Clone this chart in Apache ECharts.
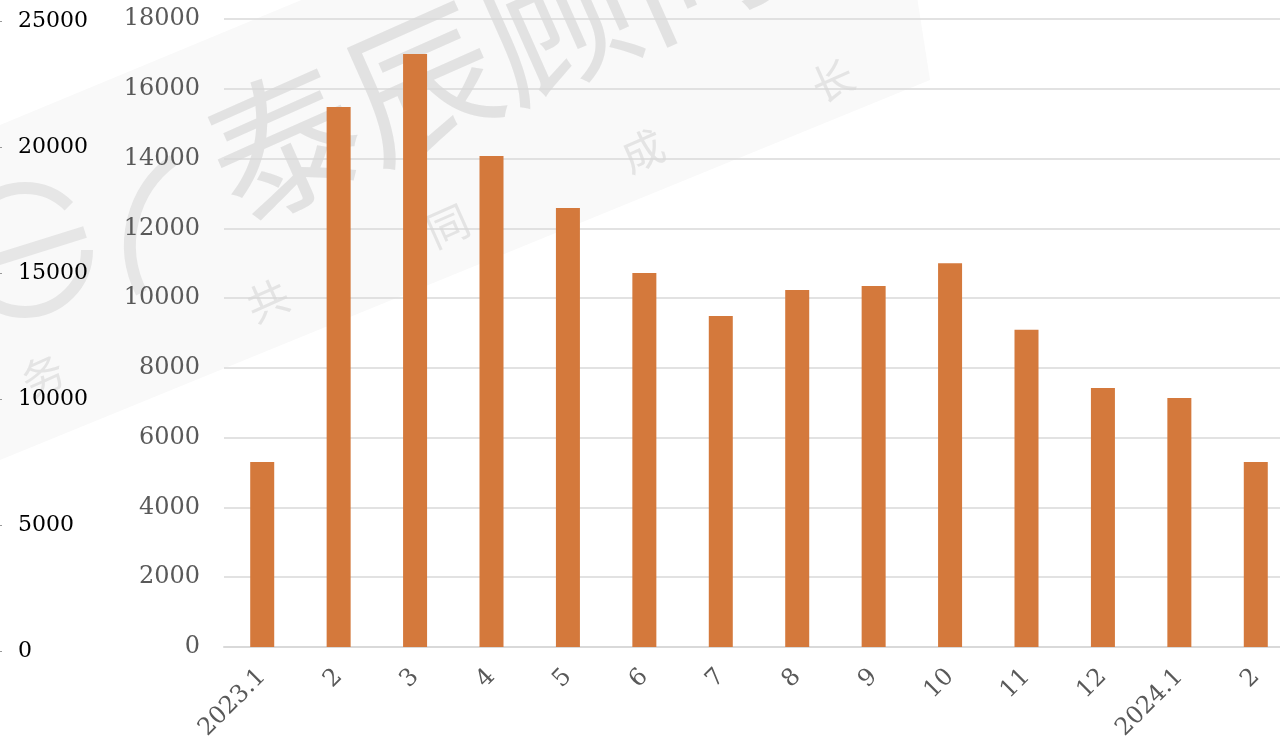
<!DOCTYPE html>
<html>
<head>
<meta charset="utf-8">
<script src="https://cdn.jsdelivr.net/npm/echarts@6/dist/echarts.min.js"></script>
<style>
  html, body { margin: 0; padding: 0; background: #fff; }
  #chart { width: 1280px; height: 744px; }
</style>
</head>
<body>
<div id="chart"></div>
<script>
const categories = ["2023.1", "2", "3", "4", "5", "6", "7", "8", "9", "10", "11", "12", "2024.1", "2"];
const values = [5300, 15480, 17000, 14070, 12580, 10720, 9490, 10230, 10350, 11000, 9090, 7420, 7140, 5300];
const outerTicks = [0, 5000, 10000, 15000, 20000, 25000];

const serif = "DejaVu Serif";
const chart = echarts.init(document.getElementById("chart"));

const rot = Math.PI * 24 / 180;
const wmSmall = (ch, x, y) => ({
  type: "text", x: x, y: y, rotation: rot, z: -5, silent: true,
  style: { text: ch, font: "42px 'Noto Sans CJK SC'", fill: "#e4e4e4" }
});

chart.setOption({
  animation: false,
  backgroundColor: "#fff",
  graphic: [
    // faint watermark band
    {
      type: "polygon", z: -10, silent: true,
      shape: { points: [[0, 125], [880, -240], [930, 80], [0, 460]] },
      style: { fill: "#f9f9f9" }
    },
    {
      type: "text", x: 185, y: 105, rotation: rot, z: -5, silent: true,
      style: { text: "泰辰顾问", font: "150px 'Noto Sans CJK SC'", fill: "#e2e2e2" }
    },
    wmSmall("共", 240, 290),
    wmSmall("同", 420, 215),
    wmSmall("成", 615, 140),
    wmSmall("长", 805, 70),
    wmSmall("务", 15, 365),
    { type: "arc", z: -5, silent: true,
      shape: { cx: 25, cy: 250, r: 62, startAngle: 0, endAngle: Math.PI * 1.75 },
      style: { stroke: "#e6e6e6", lineWidth: 12, fill: null } },
    { type: "line", z: -5, silent: true,
      shape: { x1: -30, y1: 268, x2: 85, y2: 232 },
      style: { stroke: "#e6e6e6", lineWidth: 12 } },
    { type: "arc", z: -5, silent: true,
      shape: { cx: 235, cy: 245, r: 105, startAngle: Math.PI * 0.85, endAngle: Math.PI * 1.3 },
      style: { stroke: "#e6e6e6", lineWidth: 12, fill: null } }
  ],
  grid: [
    { left: 224, width: 1070, top: 19, bottom: 97, outerBoundsMode: "none" },
    { left: 2, width: 1000, top: 21, bottom: 93, outerBoundsMode: "none" }
  ],
  xAxis: [
    {
      type: "category",
      gridIndex: 0,
      data: categories,
      axisLine: { lineStyle: { color: "#d9d9d9", width: 2 } },
      axisTick: { show: false },
      axisLabel: {
        rotate: 45,
        margin: 26,
        interval: 0,
        fontFamily: serif,
        fontSize: 24,
        color: "#595959"
      }
    },
    { type: "value", gridIndex: 1, show: false, min: 0, max: 1 }
  ],
  yAxis: [
    {
      type: "value",
      gridIndex: 0,
      min: 0,
      max: 18000,
      interval: 2000,
      axisLine: { show: false },
      axisTick: { show: false },
      splitLine: { lineStyle: { color: "#d9d9d9", width: 1.5 } },
      axisLabel: {
        margin: 24,
        fontFamily: serif,
        fontSize: 24,
        color: "#595959",
        formatter: (v) => String(v)
      }
    },
    {
      type: "value",
      gridIndex: 1,
      min: outerTicks[0],
      max: outerTicks[outerTicks.length - 1],
      interval: 5000,
      axisLine: { show: false },
      axisTick: { show: true, length: 3, lineStyle: { color: "#999" } },
      splitLine: { show: false },
      axisLabel: {
        inside: true,
        margin: 16,
        fontFamily: serif,
        fontSize: 22,
        color: "#000",
        formatter: (v) => String(v)
      }
    }
  ],
  series: [
    {
      type: "bar",
      xAxisIndex: 0,
      yAxisIndex: 0,
      data: values,
      barWidth: 24,
      itemStyle: { color: "#D4793C" }
    }
  ]
});
</script>
</body>
</html>
